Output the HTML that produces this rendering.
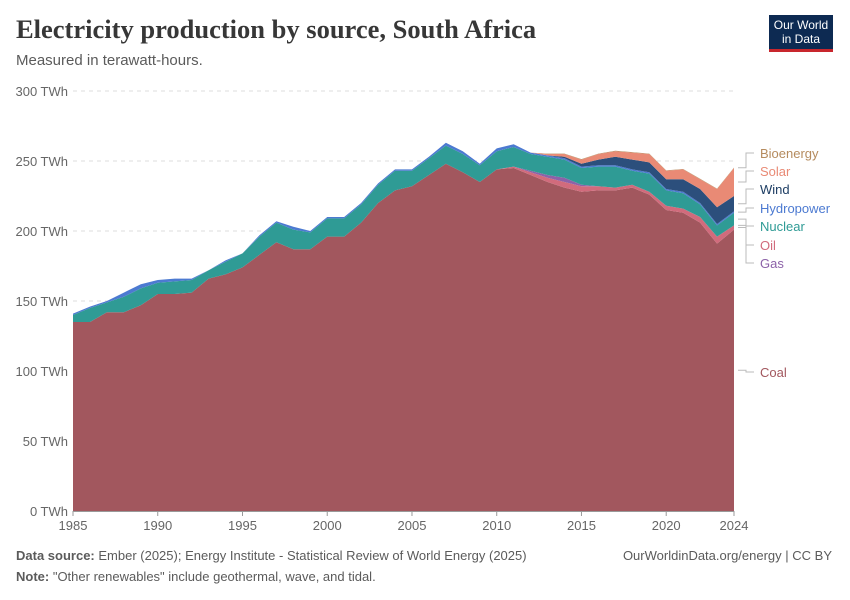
<!DOCTYPE html>
<html><head><meta charset="utf-8"><style>
body{margin:0;background:#fff;font-family:"Liberation Sans",sans-serif}
#wrap{position:relative;width:850px;height:600px}
.t{position:absolute;white-space:nowrap}
</style></head><body>
<div id="wrap">
<div class="t" style="left:16px;top:14px;font-family:'Liberation Serif',serif;font-size:26.5px;color:#373737;font-weight:bold">Electricity production by source, South Africa</div>
<div class="t" style="left:16px;top:52px;font-size:15px;color:#5b5b5b">Measured in terawatt-hours.</div>
<div style="position:absolute;left:769px;top:15px;width:64px;height:37px;background:#0d2a52;border-bottom:3px solid #c8262d;color:#fff;font-size:12px;line-height:14px;text-align:center;padding-top:3px;box-sizing:border-box">Our World<br>in Data</div>
<svg id="chart" width="850" height="600" style="position:absolute;left:0;top:0"></svg>
<div class="t" style="left:16px;top:548px;font-size:13px;color:#5b5b5b"><b>Data source:</b> Ember (2025); Energy Institute - Statistical Review of World Energy (2025)</div>
<div class="t" style="right:18px;top:548px;font-size:13px;color:#5b5b5b">OurWorldinData.org/energy | CC BY</div>
<div class="t" style="left:16px;top:569px;font-size:13px;color:#5b5b5b"><b>Note:</b> "Other renewables" include geothermal, wave, and tidal.</div>
</div>
<script>
const years=[];for(let y=1985;y<=2024;y++)years.push(y);
const coal=[135,135,142,142,147,155,155,156,166,169,174,183,192,187,187,196,196,206,220,229,232,240,248,242,235,244,245,240,235,231,228,229,229,231,226,215,213,206,191,201];
const oil=[0,0,0,0,0,0,0,0,0,0,0,0,0,0,0,0,0,0,0,0,0,0,0,0,0,0,1,2,3,4,4,3,2,2,2,3,3,4,5,3];
const gas=[0,0,0,0,0,0,0,0,0,0,0,0,0,0,0,0,0,0,0,0,0,0,0,0,0,0,0,1,2,3,1,0,0,0,0,0,0,0,0,0];
const nuclear=[5,10,7,11,12,8,9,9,6,9,10,13,14,14,12,13,13,13,13,14,11,12,13,13,12,13,14,12,13,13,12,14,15,10,13,11,11,9,8,9];
const hydro=[1,1,1,3,3,2,2,1,0,1,0,1,1,2,1,1,1,1,1,1,1,1,2,2,1,2,2,1,1,1,1,1,1,1,1,1,1,1,1,1];
const wind=[0,0,0,0,0,0,0,0,0,0,0,0,0,0,0,0,0,0,0,0,0,0,0,0,0,0,0,0,0,1,2,4,6,7,7,7,9,10,12,11];
const solar=[0,0,0,0,0,0,0,0,0,0,0,0,0,0,0,0,0,0,0,0,0,0,0,0,0,0,0,0,1,2,3,4,4,5,6,6,7,7,13,20];
const bio=[0,0,0,0,0,0,0,0,0,0,0,0,0,0,0,0,0,0,0,0,0,0,0,0,0,0,0,0,0.3,0.3,0.3,0.3,0.3,0.3,0.3,0.3,0.3,0.3,0.3,0.3];
const yTicks=[0,50,100,150,200,250,300];
const xTicks=[1985,1990,1995,2000,2005,2010,2015,2020,2024];
const series=[["coal","Coal",coal,"#a2575e"],["oil","Oil",oil,"#d16b7c"],["gas","Gas",gas,"#8c62a8"],["nuclear","Nuclear",nuclear,"#2f9b95"],["hydropower","Hydropower",hydro,"#4c7ad1"],["wind","Wind",wind,"#2c4f7c"],["solar","Solar",solar,"#e98a75"],["bioenergy","Bioenergy",bio,"#b58b5e"]];
const X=y=>73+(y-1985)*(734-73)/39;
const Y=v=>511-v*1.4;
const svg=document.getElementById('chart');const NS="http://www.w3.org/2000/svg";
function mk(t,a){const e=document.createElementNS(NS,t);for(const k in a)e.setAttribute(k,a[k]);svg.appendChild(e);return e;}
yTicks.forEach(v=>{
 if(v>0){const l=mk('line',{x1:73,x2:734,y1:Y(v),y2:Y(v),stroke:'#ddd','stroke-dasharray':'4,4'});
 
 }
 const t=mk('text',{x:68,y:Y(v)+5,'text-anchor':'end','font-size':13,fill:'#666','font-family':'Liberation Sans'});t.textContent=v+' TWh';
 
 
});
let base=years.map(()=>0);
const tops=[];
series.forEach(s=>{
 const top=base.map((b,i)=>b+s[2][i]);
 let d='M'+years.map((y,i)=>X(y)+','+Y(top[i])).join('L');
 for(let i=years.length-1;i>=0;i--)d+='L'+X(years[i])+','+Y(base[i]);
 const p=mk('path',{d:d+'Z',fill:s[3]});
 
 
 tops.push([(top[39]+base[39])/2]);base=top;
});
const ax=mk('line',{x1:73,x2:734,y1:511.5,y2:511.5,stroke:'#999'});


xTicks.forEach(y=>{
 const tk=mk('line',{x1:X(y),x2:X(y),y1:511,y2:516,stroke:'#999'});
 
 
 const t=mk('text',{x:X(y),y:530,'text-anchor':'middle','font-size':13,fill:'#666','font-family':'Liberation Sans'});t.textContent=y;
 
 
});
const labY=[372,245,263,226,208,189,171,153];
series.forEach((s,i)=>{
 const t=mk('text',{x:760,y:labY[i]+5,'font-size':13,fill:s[3]=='#2c4f7c'?'#1d3d63':s[3],'font-family':'Liberation Sans'});t.textContent=s[1];
 
 
 const l=mk('polyline',{points:`738,${Y(tops[i][0])} 746,${Y(tops[i][0])} 746,${labY[i]} 754,${labY[i]}`,fill:'none',stroke:'#bbb'});
 
 
});
</script>
</body></html>
